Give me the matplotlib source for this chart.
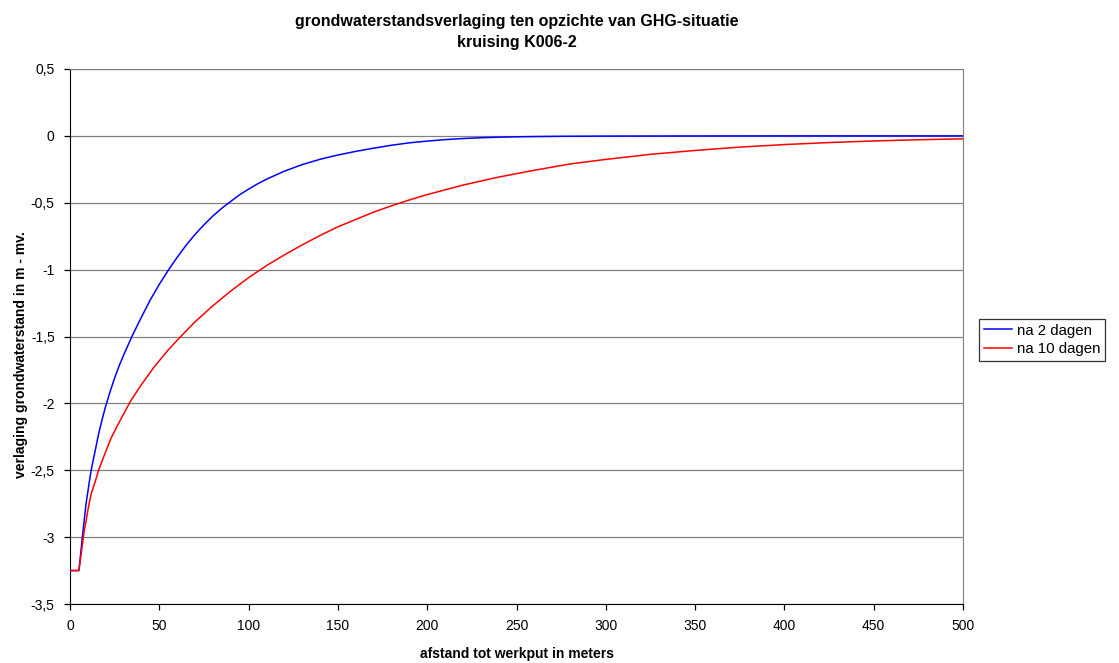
import numpy as np
from matplotlib import pyplot as plt
from matplotlib import ticker

plt.rcParams['font.family'] = ['Liberation Sans', 'DejaVu Sans']

# afstand (m) en verlaging (m - mv.)
x_2dagen = [0, 5, 6, 7, 8, 9, 10, 11, 12, 14, 16, 18, 20, 22.5, 25, 27.5, 30, 35, 40, 45, 50,
            55, 60, 65, 70, 75, 80, 85, 90, 95, 100, 105, 110, 120, 130, 140, 150, 160, 170,
            180, 190, 200, 210, 220, 230, 240, 250, 260, 275, 300, 350, 400, 500]
y_2dagen = [-3.25, -3.25, -3.12, -2.99, -2.87, -2.75, -2.66, -2.57, -2.49, -2.36, -2.23, -2.12,
            -2.02, -1.91, -1.81, -1.72, -1.64, -1.49, -1.355, -1.225, -1.11, -1.005, -0.908,
            -0.818, -0.737, -0.665, -0.599, -0.541, -0.49, -0.44, -0.398, -0.359, -0.324,
            -0.264, -0.215, -0.175, -0.143, -0.116, -0.092, -0.07, -0.052, -0.039, -0.028,
            -0.02, -0.014, -0.01, -0.007, -0.005, -0.003, -0.0015, -0.0005, 0, 0]

x_10dagen = [0, 5, 6, 7, 8, 9, 10, 11, 12, 14, 16, 18, 20, 23, 26, 30, 34, 40, 47, 55, 62, 70,
             80, 90, 100, 110, 120, 130, 140, 150, 160, 170, 180, 190, 200, 220, 240, 260, 280,
             300, 325, 350, 375, 400, 425, 450, 475, 500]
y_10dagen = [-3.25, -3.25, -3.15, -3.05, -2.95, -2.88, -2.80, -2.73, -2.67, -2.59, -2.50, -2.43,
             -2.36, -2.26, -2.18, -2.08, -1.98, -1.86, -1.73, -1.60, -1.50, -1.39, -1.27, -1.16,
             -1.06, -0.97, -0.89, -0.815, -0.745, -0.68, -0.625, -0.57, -0.523, -0.479, -0.439,
             -0.368, -0.308, -0.257, -0.21, -0.176, -0.138, -0.109, -0.084, -0.065, -0.05,
             -0.038, -0.029, -0.022]

labels = ['na 2 dagen', 'na 10 dagen']
title  = 'grondwaterstandsverlaging ten opzichte van GHG-situatie\nkruising K006-2'


fig = plt.figure(figsize=(11.19, 6.63), dpi=100)
ax  = fig.add_axes([70/1119, 1-604/663, (963-70)/1119, (604-69)/663])

ax.plot(x_2dagen,  y_2dagen,  color='#0000ff', lw=1.1, label=labels[0], zorder=3)
ax.plot(x_10dagen, y_10dagen, color='#ff0000', lw=1.1, label=labels[1], zorder=3)

ax.set_xlim(0, 500)
ax.set_ylim(-3.5, 0.5)
ax.xaxis.set_major_locator(ticker.MultipleLocator(50))
ax.yaxis.set_major_locator(ticker.MultipleLocator(0.5))
ax.yaxis.set_major_formatter(ticker.FuncFormatter(lambda v, p: ('%g' % v).replace('.', ',')))

ax.grid(axis='y', color='#808080', lw=0.9)
ax.set_axisbelow(True)
ax.tick_params(direction='out', length=4, width=0.9, labelsize=10, pad=7)

ax.spines['left'  ].set_color('black')
ax.spines['bottom'].set_color('black')
ax.spines['top'   ].set_color('#808080')
ax.spines['right' ].set_color('#808080')

ax.set_xlabel('afstand tot werkput in meters', fontsize=10, fontweight='bold', labelpad=10)
ax.set_ylabel('verlaging grondwaterstand in m - mv.', fontsize=10, fontweight='bold')
ax.yaxis.set_label_coords(-0.047, 0.467)
ax.set_title(title, fontsize=11.5, fontweight='bold', pad=16, linespacing=1.5)

leg = fig.legend(loc='center left', bbox_to_anchor=(979/1119, 1-340/663), fontsize=10.8,
                 frameon=True, fancybox=False, edgecolor='black', borderpad=0.3,
                 handlelength=1.9, handletextpad=0.35, labelspacing=0.3, borderaxespad=0)
leg.get_frame().set_linewidth(0.9)

fig.savefig('out.png', dpi=100)
